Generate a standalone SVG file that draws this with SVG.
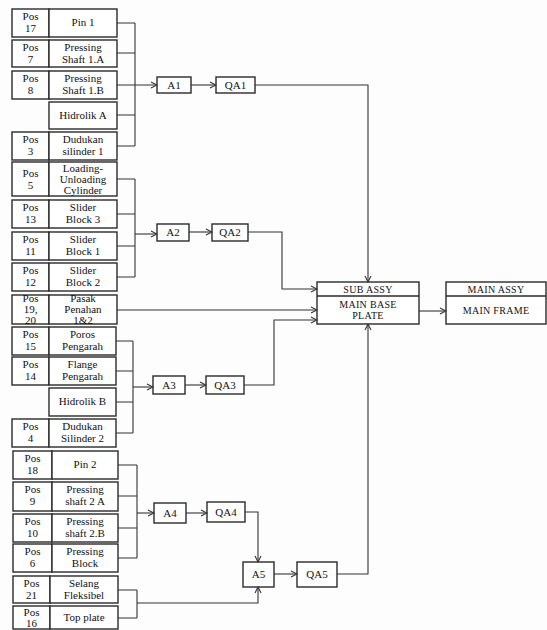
<svg xmlns="http://www.w3.org/2000/svg" width="547" height="630" viewBox="0 0 547 630">
<style>
.bx{fill:#fff;stroke:#2a2a2a;stroke-width:1.4}
.t{font-family:"Liberation Serif","DejaVu Serif",serif;font-size:11px;fill:#111;text-anchor:middle}
.c{font-family:"Liberation Serif","DejaVu Serif",serif;font-size:10px;fill:#111;text-anchor:middle;letter-spacing:0.3px}
.ln{fill:none;stroke:#333;stroke-width:1.1}
</style>
<defs>
<marker id="ar" markerWidth="8" markerHeight="8" refX="7" refY="4" orient="auto" markerUnits="userSpaceOnUse">
<path d="M1,1 L7,4 L1,7" fill="none" stroke="#333" stroke-width="1.1"/>
</marker>
</defs>
<rect width="547" height="630" fill="#fdfdfd"/>

<g id="pos17"><rect class="bx" x="12" y="9" width="37" height="28"/><rect class="bx" x="49" y="9" width="68" height="28"/><text class="t" x="30.5" y="20">Pos</text><text class="t" x="30.5" y="32">17</text><text class="t" x="83" y="26">Pin 1</text></g>
<g id="pos7"><rect class="bx" x="12" y="40" width="37" height="27"/><rect class="bx" x="49" y="40" width="68" height="27"/><text class="t" x="30.5" y="51">Pos</text><text class="t" x="30.5" y="63">7</text><text class="t" x="83" y="51">Pressing</text><text class="t" x="83" y="63">Shaft 1.A</text></g>
<g id="pos8"><rect class="bx" x="12" y="71" width="37" height="28"/><rect class="bx" x="49" y="71" width="68" height="28"/><text class="t" x="30.5" y="82">Pos</text><text class="t" x="30.5" y="94">8</text><text class="t" x="83" y="82">Pressing</text><text class="t" x="83" y="94">Shaft 1.B</text></g>
<g id="hidrolikA"><rect class="bx" x="49" y="102" width="68" height="27"/><text class="t" x="83" y="119">Hidrolik A</text></g>
<g id="pos3"><rect class="bx" x="12" y="132" width="37" height="28"/><rect class="bx" x="49" y="132" width="68" height="28"/><text class="t" x="30.5" y="143">Pos</text><text class="t" x="30.5" y="155">3</text><text class="t" x="83" y="143">Dudukan</text><text class="t" x="83" y="155">silinder 1</text></g>

<g id="pos5"><rect class="bx" x="12" y="162" width="37" height="34"/><rect class="bx" x="49" y="162" width="68" height="34"/><text class="t" x="30.5" y="177">Pos</text><text class="t" x="30.5" y="189">5</text><text class="t" x="83" y="172">Loading-</text><text class="t" x="83" y="183">Unloading</text><text class="t" x="83" y="194">Cylinder</text></g>
<g id="pos13"><rect class="bx" x="12" y="200" width="37" height="28"/><rect class="bx" x="49" y="200" width="68" height="28"/><text class="t" x="30.5" y="211">Pos</text><text class="t" x="30.5" y="223">13</text><text class="t" x="83" y="211">Slider</text><text class="t" x="83" y="223">Block 3</text></g>
<g id="pos11"><rect class="bx" x="12" y="232" width="37" height="28"/><rect class="bx" x="49" y="232" width="68" height="28"/><text class="t" x="30.5" y="243">Pos</text><text class="t" x="30.5" y="255">11</text><text class="t" x="83" y="243">Slider</text><text class="t" x="83" y="255">Block 1</text></g>
<g id="pos12"><rect class="bx" x="12" y="263" width="37" height="28"/><rect class="bx" x="49" y="263" width="68" height="28"/><text class="t" x="30.5" y="274">Pos</text><text class="t" x="30.5" y="286">12</text><text class="t" x="83" y="274">Slider</text><text class="t" x="83" y="286">Block 2</text></g>
<g id="pos1920"><rect class="bx" x="12" y="295" width="37" height="29"/><rect class="bx" x="49" y="295" width="68" height="29"/><text class="t" x="30.5" y="302">Pos</text><text class="t" x="30.5" y="313">19,</text><text class="t" x="30.5" y="324">20</text><text class="t" x="83" y="302">Pasak</text><text class="t" x="83" y="313">Penahan</text><text class="t" x="83" y="324">1&amp;2</text></g>

<g id="pos15"><rect class="bx" x="12" y="327" width="37" height="28"/><rect class="bx" x="49" y="327" width="67" height="28"/><text class="t" x="30.5" y="338">Pos</text><text class="t" x="30.5" y="350">15</text><text class="t" x="82.5" y="338">Poros</text><text class="t" x="82.5" y="350">Pengarah</text></g>
<g id="pos14"><rect class="bx" x="12" y="357" width="37" height="28"/><rect class="bx" x="49" y="357" width="67" height="28"/><text class="t" x="30.5" y="368">Pos</text><text class="t" x="30.5" y="380">14</text><text class="t" x="82.5" y="368">Flange</text><text class="t" x="82.5" y="380">Pengarah</text></g>
<g id="hidrolikB"><rect class="bx" x="49" y="388" width="67" height="28"/><text class="t" x="82.5" y="405">Hidrolik B</text></g>
<g id="pos4"><rect class="bx" x="12" y="419" width="37" height="28"/><rect class="bx" x="49" y="419" width="67" height="28"/><text class="t" x="30.5" y="430">Pos</text><text class="t" x="30.5" y="442">4</text><text class="t" x="82.5" y="430">Dudukan</text><text class="t" x="82.5" y="442">Silinder 2</text></g>

<g id="pos18"><rect class="bx" x="13" y="451" width="39" height="28"/><rect class="bx" x="52" y="451" width="66" height="28"/><text class="t" x="32.5" y="462">Pos</text><text class="t" x="32.5" y="474">18</text><text class="t" x="85" y="468">Pin 2</text></g>
<g id="pos9"><rect class="bx" x="13" y="482" width="39" height="29"/><rect class="bx" x="52" y="482" width="66" height="29"/><text class="t" x="32.5" y="493">Pos</text><text class="t" x="32.5" y="505">9</text><text class="t" x="85" y="493">Pressing</text><text class="t" x="85" y="505">shaft 2 A</text></g>
<g id="pos10"><rect class="bx" x="13" y="514" width="39" height="28"/><rect class="bx" x="52" y="514" width="66" height="28"/><text class="t" x="32.5" y="525">Pos</text><text class="t" x="32.5" y="537">10</text><text class="t" x="85" y="525">Pressing</text><text class="t" x="85" y="537">shaft 2.B</text></g>
<g id="pos6"><rect class="bx" x="13" y="544" width="39" height="28"/><rect class="bx" x="52" y="544" width="66" height="28"/><text class="t" x="32.5" y="555">Pos</text><text class="t" x="32.5" y="567">6</text><text class="t" x="85" y="555">Pressing</text><text class="t" x="85" y="567">Block</text></g>
<g id="pos21"><rect class="bx" x="13" y="576" width="37" height="27"/><rect class="bx" x="50" y="576" width="68" height="27"/><text class="t" x="31.5" y="587">Pos</text><text class="t" x="31.5" y="599">21</text><text class="t" x="84" y="587">Selang</text><text class="t" x="84" y="599">Fleksibel</text></g>
<g id="pos16"><rect class="bx" x="13" y="606" width="37" height="23"/><rect class="bx" x="50" y="606" width="68" height="23"/><text class="t" x="31.5" y="616">Pos</text><text class="t" x="31.5" y="627">16</text><text class="t" x="84" y="621">Top plate</text></g>

<g id="A1"><rect class="bx" x="157" y="77" width="34" height="16"/><text class="t" x="174" y="89">A1</text></g>
<g id="QA1"><rect class="bx" x="216" y="77" width="39" height="16"/><text class="t" x="235.5" y="89">QA1</text></g>
<g id="A2"><rect class="bx" x="157" y="224" width="32" height="17"/><text class="t" x="173" y="236">A2</text></g>
<g id="QA2"><rect class="bx" x="212" y="224" width="36" height="17"/><text class="t" x="230" y="236">QA2</text></g>
<g id="A3"><rect class="bx" x="153" y="376" width="32" height="18"/><text class="t" x="169" y="389">A3</text></g>
<g id="QA3"><rect class="bx" x="206" y="376" width="38" height="18"/><text class="t" x="225" y="389">QA3</text></g>
<g id="A4"><rect class="bx" x="154" y="503" width="32" height="20"/><text class="t" x="170" y="517">A4</text></g>
<g id="QA4"><rect class="bx" x="207" y="502" width="38" height="20"/><text class="t" x="226" y="516">QA4</text></g>
<g id="A5"><rect class="bx" x="243" y="562" width="31" height="25"/><text class="t" x="258.5" y="578">A5</text></g>
<g id="QA5"><rect class="bx" x="297" y="562" width="40" height="25"/><text class="t" x="317" y="578">QA5</text></g>

<g id="subassy"><rect class="bx" x="317" y="282" width="102" height="42"/><line x1="317" y1="296" x2="419" y2="296" stroke="#2a2a2a" stroke-width="1.4"/><text class="c" x="368" y="293">SUB ASSY</text><text class="c" x="368" y="308">MAIN BASE</text><text class="c" x="368" y="319">PLATE</text></g>
<g id="mainassy"><rect class="bx" x="446" y="282" width="100" height="42"/><line x1="446" y1="296" x2="546" y2="296" stroke="#2a2a2a" stroke-width="1.4"/><text class="c" x="496" y="293">MAIN ASSY</text><text class="c" x="496" y="314">MAIN FRAME</text></g>

<g id="connectors">
<path class="ln" d="M117,23H135M117,53H135M117,115H135M117,146H135M135,23V146"/>
<path class="ln" d="M117,85H157" marker-end="url(#ar)"/>
<path class="ln" d="M117,179H135M117,214H135M117,246H135M117,277H135M135,179V277"/>
<path class="ln" d="M135,234H157" marker-end="url(#ar)"/>
<path class="ln" d="M116,341H133M116,371H133M116,402H133M116,433H133M133,341V433"/>
<path class="ln" d="M133,387H153" marker-end="url(#ar)"/>
<path class="ln" d="M118,465H137M118,496H137M118,528H137M118,558H137M137,465V558"/>
<path class="ln" d="M137,513H154" marker-end="url(#ar)"/>
<path class="ln" d="M118,590H137M118,618H137M137,590V618"/>
<path class="ln" d="M137,603H258V587" marker-end="url(#ar)"/>
<path class="ln" d="M191,85H216" marker-end="url(#ar)"/>
<path class="ln" d="M189,232H212" marker-end="url(#ar)"/>
<path class="ln" d="M185,385H206" marker-end="url(#ar)"/>
<path class="ln" d="M186,513H207" marker-end="url(#ar)"/>
<path class="ln" d="M274,574H297" marker-end="url(#ar)"/>
<path class="ln" d="M245,512H258V562" marker-end="url(#ar)"/>
<path class="ln" d="M255,85H368V282" marker-end="url(#ar)"/>
<path class="ln" d="M248,232H282V289H317" marker-end="url(#ar)"/>
<path class="ln" d="M117,310H317" marker-end="url(#ar)"/>
<path class="ln" d="M244,385H274V320H317" marker-end="url(#ar)"/>
<path class="ln" d="M337,574H368V324" marker-end="url(#ar)"/>
<path class="ln" d="M419,311H446" marker-end="url(#ar)"/>
</g>
</svg>
